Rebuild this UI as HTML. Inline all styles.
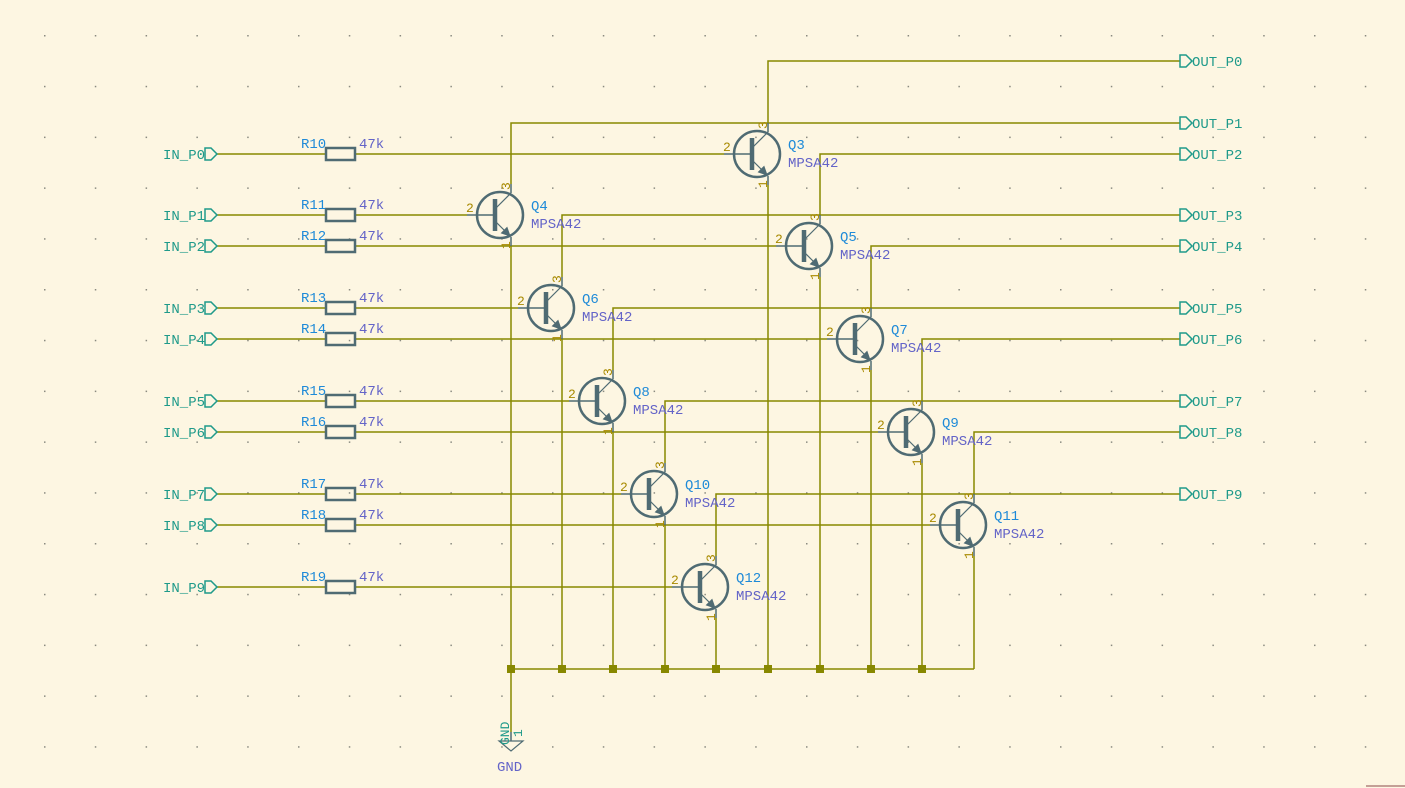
<!DOCTYPE html>
<html><head><meta charset="utf-8"><style>
html,body{margin:0;padding:0;background:#fdf6e2;}
svg{display:block;}
text{font-family:"Liberation Mono",monospace;}
.lbl{fill:#1f9a8a;font-size:14px;}
.ref{fill:#1e8ad8;font-size:14px;}
.val{fill:#6464c8;font-size:14px;}
.pin{fill:#a88a00;font-size:13px;}
.w{stroke:#888800;stroke-width:1.5;fill:none;}
</style></head><body>
<svg width="1405" height="788" viewBox="0 0 1405 788" xmlns="http://www.w3.org/2000/svg">
<defs>
<pattern id="grid" x="44" y="35" width="50.8" height="50.8" patternUnits="userSpaceOnUse">
<rect x="0" y="0" width="1.5" height="1.5" fill="#8a8a80"/>
</pattern>
<g id="q">
<circle cx="-11" cy="0" r="23" stroke="#4f6b73" stroke-width="2.5" fill="none"/>
<line x1="-16" y1="-16" x2="-16" y2="16" stroke="#4f6b73" stroke-width="4.5"/>
<line x1="-44" y1="0" x2="-16" y2="0" stroke="#4f6b73" stroke-width="1.5"/>
<line x1="-16" y1="-6" x2="0" y2="-22" stroke="#4f6b73" stroke-width="1.2"/>
<line x1="-16" y1="6" x2="-3" y2="19" stroke="#4f6b73" stroke-width="1.2"/>
<polygon points="-1,21 -9.5,18 -4,12.5" fill="#4f6b73" stroke="#4f6b73" stroke-width="1"/>
<line x1="0" y1="-22" x2="0" y2="-31" stroke="#4f6b73" stroke-width="1.5"/>
<line x1="0" y1="22" x2="0" y2="31" stroke="#4f6b73" stroke-width="1.5"/>
</g>
<rect id="r" x="0" y="-6" width="29" height="12" fill="none" stroke="#4f6b73" stroke-width="2.5"/>
<polygon id="port" points="0,-6 6,-6 12,0 6,6 0,6" fill="none" stroke="#1f9a8a" stroke-width="1.5"/>
</defs>
<rect width="1405" height="788" fill="url(#grid)"/>

<g class="w">
<path d="M216 154H326M355 154H724"/>
<path d="M216 215H326M355 215H467"/>
<path d="M216 246H326M355 246H776"/>
<path d="M216 308H326M355 308H518"/>
<path d="M216 339H326M355 339H827"/>
<path d="M216 401H326M355 401H569"/>
<path d="M216 432H326M355 432H878"/>
<path d="M216 494H326M355 494H621"/>
<path d="M216 525H326M355 525H930"/>
<path d="M216 587H326M355 587H672"/>
<path d="M768 123V61H1180"/>
<path d="M511 184V123H1180"/>
<path d="M820 215V154H1180"/>
<path d="M562 277V215H1180"/>
<path d="M871 308V246H1180"/>
<path d="M613 370V308H1180"/>
<path d="M922 401V339H1180"/>
<path d="M665 463V401H1180"/>
<path d="M974 494V432H1180"/>
<path d="M716 556V494H1180"/>
<path d="M768 185V669M511 246V732M820 277V669M562 339V669M871 370V669M613 432V669M922 463V669M665 525V669M974 556V669M716 618V669"/>
<path d="M511 669H974"/>
</g>
<g fill="#888800">
<rect x="507" y="665" width="8" height="8"/><rect x="558" y="665" width="8" height="8"/><rect x="609" y="665" width="8" height="8"/><rect x="661" y="665" width="8" height="8"/><rect x="712" y="665" width="8" height="8"/><rect x="764" y="665" width="8" height="8"/><rect x="816" y="665" width="8" height="8"/><rect x="867" y="665" width="8" height="8"/><rect x="918" y="665" width="8" height="8"/>
</g>

<use href="#r" x="326" y="154"/><use href="#r" x="326" y="215"/><use href="#r" x="326" y="246"/><use href="#r" x="326" y="308"/><use href="#r" x="326" y="339"/><use href="#r" x="326" y="401"/><use href="#r" x="326" y="432"/><use href="#r" x="326" y="494"/><use href="#r" x="326" y="525"/><use href="#r" x="326" y="587"/>
<g class="ref">
<text x="301" y="148">R10</text><text x="301" y="209">R11</text><text x="301" y="240">R12</text><text x="301" y="302">R13</text><text x="301" y="333">R14</text><text x="301" y="395">R15</text><text x="301" y="426">R16</text><text x="301" y="488">R17</text><text x="301" y="519">R18</text><text x="301" y="581">R19</text>
</g>
<g class="val">
<text x="359" y="148">47k</text><text x="359" y="209">47k</text><text x="359" y="240">47k</text><text x="359" y="302">47k</text><text x="359" y="333">47k</text><text x="359" y="395">47k</text><text x="359" y="426">47k</text><text x="359" y="488">47k</text><text x="359" y="519">47k</text><text x="359" y="581">47k</text>
</g>

<g class="lbl" text-anchor="end">
<text x="205" y="159">IN_P0</text><text x="205" y="220">IN_P1</text><text x="205" y="251">IN_P2</text><text x="205" y="313">IN_P3</text><text x="205" y="344">IN_P4</text><text x="205" y="406">IN_P5</text><text x="205" y="437">IN_P6</text><text x="205" y="499">IN_P7</text><text x="205" y="530">IN_P8</text><text x="205" y="592">IN_P9</text>
</g>
<use href="#port" x="205" y="154"/><use href="#port" x="205" y="215"/><use href="#port" x="205" y="246"/><use href="#port" x="205" y="308"/><use href="#port" x="205" y="339"/><use href="#port" x="205" y="401"/><use href="#port" x="205" y="432"/><use href="#port" x="205" y="494"/><use href="#port" x="205" y="525"/><use href="#port" x="205" y="587"/>

<use href="#port" x="1180" y="61"/><use href="#port" x="1180" y="123"/><use href="#port" x="1180" y="154"/><use href="#port" x="1180" y="215"/><use href="#port" x="1180" y="246"/><use href="#port" x="1180" y="308"/><use href="#port" x="1180" y="339"/><use href="#port" x="1180" y="401"/><use href="#port" x="1180" y="432"/><use href="#port" x="1180" y="494"/>
<g class="lbl">
<text x="1192" y="66">OUT_P0</text><text x="1192" y="128">OUT_P1</text><text x="1192" y="159">OUT_P2</text><text x="1192" y="220">OUT_P3</text><text x="1192" y="251">OUT_P4</text><text x="1192" y="313">OUT_P5</text><text x="1192" y="344">OUT_P6</text><text x="1192" y="406">OUT_P7</text><text x="1192" y="437">OUT_P8</text><text x="1192" y="499">OUT_P9</text>
</g>

<use href="#q" x="768" y="154"/><use href="#q" x="511" y="215"/><use href="#q" x="820" y="246"/><use href="#q" x="562" y="308"/><use href="#q" x="871" y="339"/><use href="#q" x="613" y="401"/><use href="#q" x="922" y="432"/><use href="#q" x="665" y="494"/><use href="#q" x="974" y="525"/><use href="#q" x="716" y="587"/>
<g class="ref">
<text x="788" y="149">Q3</text><text x="531" y="210">Q4</text><text x="840" y="241">Q5</text><text x="582" y="303">Q6</text><text x="891" y="334">Q7</text><text x="633" y="396">Q8</text><text x="942" y="427">Q9</text><text x="685" y="489">Q10</text><text x="994" y="520">Q11</text><text x="736" y="582">Q12</text>
</g>
<g class="val">
<text x="788" y="167">MPSA42</text><text x="531" y="228">MPSA42</text><text x="840" y="259">MPSA42</text><text x="582" y="321">MPSA42</text><text x="891" y="352">MPSA42</text><text x="633" y="414">MPSA42</text><text x="942" y="445">MPSA42</text><text x="685" y="507">MPSA42</text><text x="994" y="538">MPSA42</text><text x="736" y="600">MPSA42</text>
</g>
<g class="pin">
<text x="723" y="151">2</text><text x="466" y="212">2</text><text x="775" y="243">2</text><text x="517" y="305">2</text><text x="826" y="336">2</text><text x="568" y="398">2</text><text x="877" y="429">2</text><text x="620" y="491">2</text><text x="929" y="522">2</text><text x="671" y="584">2</text>
<text transform="translate(767,129) rotate(-90)">3</text><text transform="translate(510,190) rotate(-90)">3</text><text transform="translate(819,221) rotate(-90)">3</text><text transform="translate(561,283) rotate(-90)">3</text><text transform="translate(870,314) rotate(-90)">3</text><text transform="translate(612,376) rotate(-90)">3</text><text transform="translate(921,407) rotate(-90)">3</text><text transform="translate(664,469) rotate(-90)">3</text><text transform="translate(973,500) rotate(-90)">3</text><text transform="translate(715,562) rotate(-90)">3</text>
<text transform="translate(767,188) rotate(-90)">1</text><text transform="translate(510,249) rotate(-90)">1</text><text transform="translate(819,280) rotate(-90)">1</text><text transform="translate(561,342) rotate(-90)">1</text><text transform="translate(870,373) rotate(-90)">1</text><text transform="translate(612,435) rotate(-90)">1</text><text transform="translate(921,466) rotate(-90)">1</text><text transform="translate(664,528) rotate(-90)">1</text><text transform="translate(973,559) rotate(-90)">1</text><text transform="translate(715,621) rotate(-90)">1</text>
</g>

<line x1="511" y1="732" x2="511" y2="741" stroke="#4f6b73" stroke-width="1.5"/>
<polygon points="499,741 523,741 511,751" fill="none" stroke="#4f6b73" stroke-width="1.2"/>
<text class="lbl" transform="translate(509,745) rotate(-90)" style="font-size:13px">GND</text>
<text class="lbl" transform="translate(522,737) rotate(-90)" style="font-size:13px">1</text>
<text class="val" x="497" y="771">GND</text>

<line x1="1366" y1="786" x2="1405" y2="786" stroke="#8a4a4a" stroke-width="1"/>
</svg>
</body></html>
